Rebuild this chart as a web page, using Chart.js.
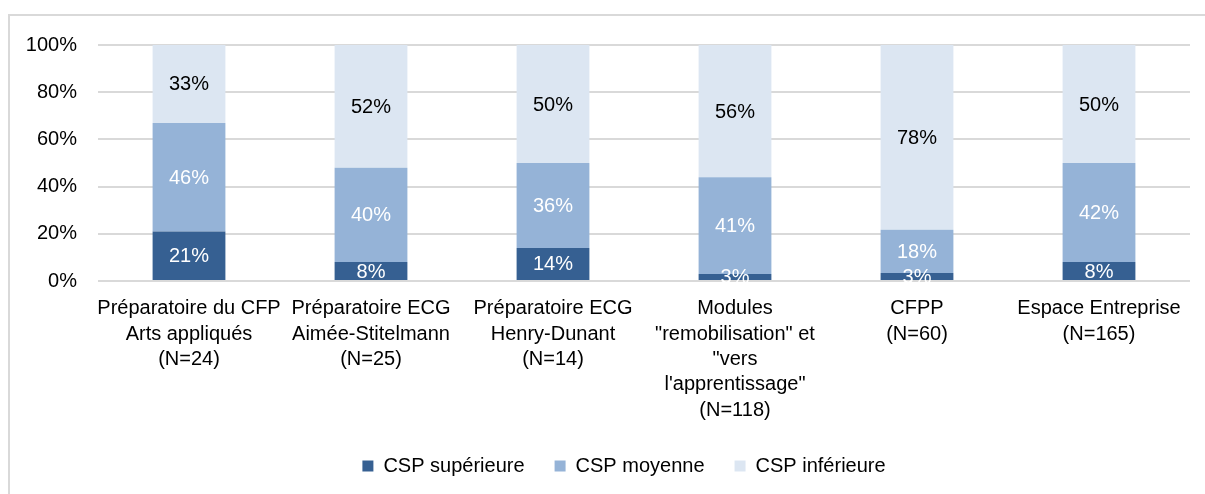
<!DOCTYPE html>
<html>
<head>
<meta charset="utf-8">
<script src="https://cdn.jsdelivr.net/npm/chart.js@4.4.1/dist/chart.umd.min.js"></script>
<style>
  html, body { margin: 0; padding: 0; background: #fff; overflow: hidden; }
  #cadre { position: absolute; left: 8px; top: 14px; width: 1400px; height: 700px; border: 2px solid #d9d9d9; }
  #zone { position: absolute; left: 0; top: 0; width: 1205px; height: 494px; }
</style>
</head>
<body>
<div id="cadre"></div>
<div id="zone"><canvas id="graphique" width="1205" height="494"></canvas></div>
<script>
// categories (axe x)
const categories = [
    ['Préparatoire du CFP', 'Arts appliqués', '(N=24)'],
    ['Préparatoire ECG', 'Aimée-Stitelmann', '(N=25)'],
    ['Préparatoire ECG', 'Henry-Dunant', '(N=14)'],
    ['Modules', '"remobilisation" et', '"vers', 'l\'apprentissage"', '(N=118)'],
    ['CFPP', '(N=60)'],
    ['Espace Entreprise', '(N=165)']
];
const cspSuperieure = [21, 8, 14, 3, 3.4, 8];
const cspMoyenne = [46, 40, 36, 41, 18.3, 42];
const cspInferieure = [33, 52, 50, 56, 78.3, 50];
const ticksY = [0, 20, 40, 60, 80, 100];

const police = 'Liberation Sans, Arial, sans-serif';
Chart.defaults.font.family = police;
Chart.defaults.color = '#000';

// etiquettes au centre de chaque segment
const etiquettes = {
    id: 'etiquettes',
    afterDatasetsDraw(chart) {
        const ctx = chart.ctx;
        ctx.save();
        ctx.font = '20px ' + police;
        ctx.textAlign = 'center';
        ctx.textBaseline = 'middle';
        chart.data.datasets.forEach(function(ds, i) {
            const meta = chart.getDatasetMeta(i);
            meta.data.forEach(function(barre, j) {
                const c = barre.getCenterPoint();
                ctx.fillStyle = i === 2 ? '#000' : '#fff';
                ctx.fillText(Math.round(ds.data[j]) + '%', c.x, c.y + 1);
            });
        });
        ctx.restore();
    }
};

// la legende est centree sur le cadre, pas sur le canvas
const decalageLegende = {
    id: 'decalageLegende',
    afterLayout(chart) {
        if (chart.legend) {
            chart.legend.left += 29;
            chart.legend.right += 29;
        }
    }
};

new Chart(document.getElementById('graphique'), {
    type: 'bar',
    data: {
        labels: categories,
        datasets: [
            { label: 'CSP supérieure', data: cspSuperieure, backgroundColor: '#366092' },
            { label: 'CSP moyenne', data: cspMoyenne, backgroundColor: '#95b3d7' },
            { label: 'CSP inférieure', data: cspInferieure, backgroundColor: '#dce6f2' }
        ]
    },
    options: {
        responsive: false,
        animation: false,
        layout: { padding: { top: 45, right: 15, bottom: 8, left: 0 } },
        datasets: { bar: { categoryPercentage: 1, barPercentage: 0.4 } },
        scales: {
            x: {
                stacked: true,
                grid: { display: false },
                border: { display: false },
                ticks: { font: { size: 20, lineHeight: 1.27 }, maxRotation: 0, autoSkip: false, padding: 7 },
                afterFit: function(scale) { scale.height = 145; }
            },
            y: {
                stacked: true,
                min: 0,
                max: 100,
                border: { display: false },
                grid: { color: '#d9d9d9', lineWidth: 2, drawTicks: false },
                afterBuildTicks: function(scale) {
                    scale.ticks = ticksY.map(function(v) { return { value: v }; });
                },
                ticks: {
                    font: { size: 20 },
                    padding: 21,
                    callback: function(v) { return v + '%'; }
                },
                afterFit: function(scale) { scale.width = 98; }
            }
        },
        plugins: {
            tooltip: { enabled: false },
            legend: {
                position: 'bottom',
                labels: { font: { size: 20 }, boxWidth: 11, boxHeight: 11, padding: 30, color: '#000' }
            }
        }
    },
    plugins: [etiquettes, decalageLegende]
});
</script>
</body>
</html>
